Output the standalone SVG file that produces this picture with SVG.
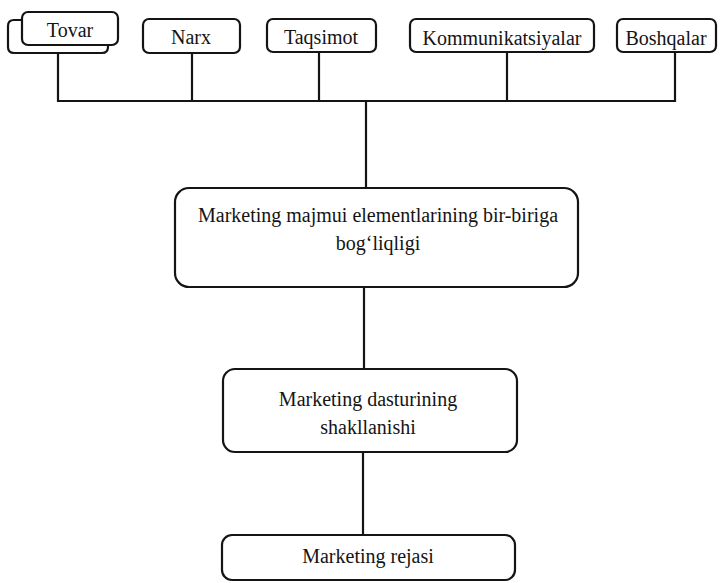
<svg xmlns="http://www.w3.org/2000/svg" width="721" height="583" viewBox="0 0 721 583">
<style>
.box{fill:none;stroke:#141414;stroke-width:2.2}
.ln{fill:none;stroke:#141414;stroke-width:2.2}
text{font-family:"Liberation Serif","Times New Roman",serif;font-size:20px;fill:#141414;text-anchor:middle}
</style>
<rect width="721" height="583" fill="#ffffff"/>
<g id="connectors">
<path class="ln" d="M58,53 V101 H675 V52"/>
<path class="ln" d="M192,53 V101"/>
<path class="ln" d="M319,52 V101"/>
<path class="ln" d="M507,52 V101"/>
<path class="ln" d="M366,101 V188"/>
<path class="ln" d="M364,287 V369"/>
<path class="ln" d="M363,452 V535"/>
</g>
<g id="tovar">
<path class="box" d="M22,20 H14 Q8,20 8,26 V47 Q8,53 14,53 H102 Q108,53 108,47 V45"/>
<rect class="box" x="22" y="12" width="96" height="33" rx="6"/>
<text x="70" y="37">Tovar</text>
</g>
<g id="narx">
<rect class="box" x="143" y="19" width="97" height="34" rx="6"/>
<text x="191" y="44">Narx</text>
</g>
<g id="taqsimot">
<rect class="box" x="267" y="19" width="109" height="33" rx="6"/>
<text x="321" y="44">Taqsimot</text>
</g>
<g id="kommunikatsiyalar">
<rect class="box" x="410" y="19" width="184" height="33" rx="6"/>
<text x="502" y="45">Kommunikatsiyalar</text>
</g>
<g id="boshqalar">
<rect class="box" x="617" y="19" width="99" height="33" rx="6"/>
<text x="666" y="45">Boshqalar</text>
</g>
<g id="boglikligi">
<rect class="box" x="175" y="188" width="403" height="99" rx="14"/>
<text x="378" y="222">Marketing majmui elementlarining bir-biriga</text>
<text x="378" y="250">bog‘liqligi</text>
</g>
<g id="dastur">
<rect class="box" x="223" y="369" width="294" height="83" rx="12"/>
<text x="368" y="406">Marketing dasturining</text>
<text x="368" y="434">shakllanishi</text>
</g>
<g id="reja">
<rect class="box" x="222" y="535" width="293" height="45" rx="10"/>
<text x="368" y="563">Marketing rejasi</text>
</g>
</svg>
